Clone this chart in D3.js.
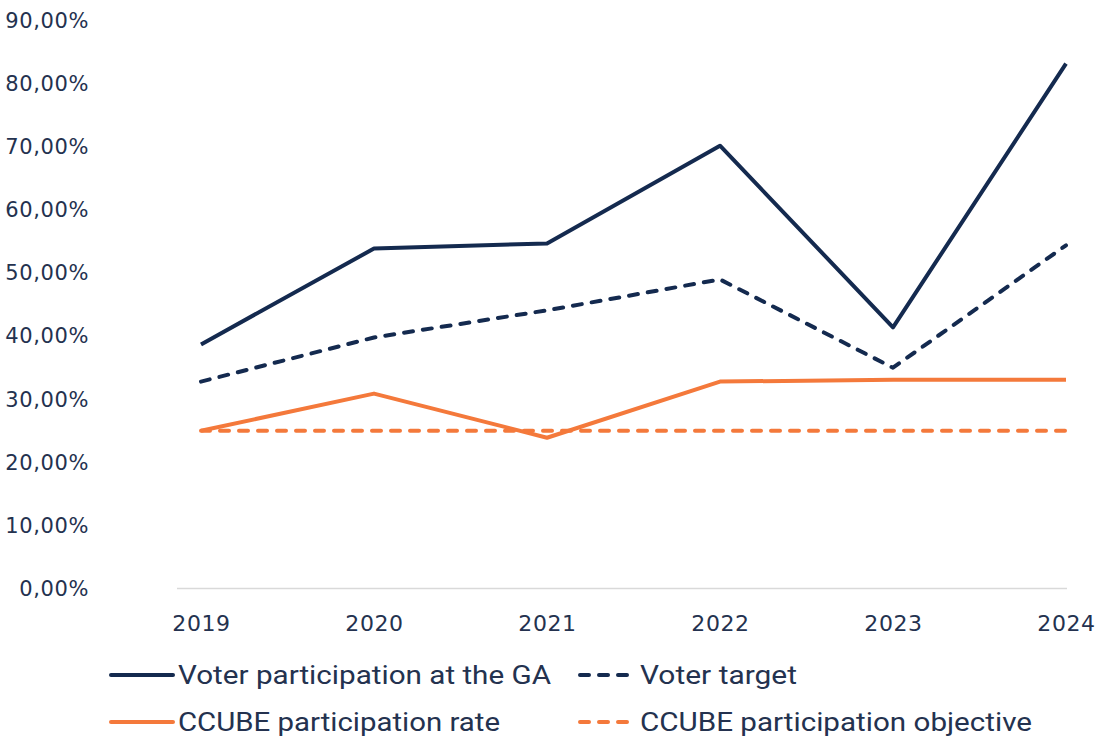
<!DOCTYPE html>
<html>
<head>
<meta charset="utf-8">
<script src="https://cdn.jsdelivr.net/npm/d3@7"></script>
<style>
  html, body { margin: 0; padding: 0; background: #ffffff; }
  svg { display: block; }
</style>
</head>
<body>
<svg id="chart" width="1100" height="740"></svg>
<script>
// Years on the category axis
const years = ["2019", "2020", "2021", "2022", "2023", "2024"];

// Participation series, in percent
const voterParticipation = [38.7, 53.9, 54.7, 70.2, 41.4, 83.2];
const voterTarget        = [32.8, 39.8, 44.1, 49.0, 35.0, 54.4];
const ccubeRate          = [25.0, 30.9, 23.9, 32.8, 33.1, 33.1];
const ccubeObjective     = [25.0, 25.0, 25.0, 25.0, 25.0, 25.0];

// Value-axis ticks
const yTicks = [0, 10, 20, 30, 40, 50, 60, 70, 80, 90];

const NAVY = "#142a4f";
const ORANGE = "#f4793b";
const TEXT = "#24324f";
const AXIS_FONT = "'DejaVu Sans', Verdana, sans-serif";

const series = [
  { name: "Voter participation at the GA", values: voterParticipation, color: NAVY, dashed: false },
  { name: "Voter target", values: voterTarget, color: NAVY, dashed: true },
  { name: "CCUBE participation rate", values: ccubeRate, color: ORANGE, dashed: false },
  { name: "CCUBE participation objective", values: ccubeObjective, color: ORANGE, dashed: true }
];

const svg = d3.select("#chart");

const x = d3.scalePoint().domain(years).range([201, 1066]);
const y = d3.scaleLinear().domain([0, 90]).range([588.5, 20.8]);

// Value axis labels (no axis line, no ticks)
const yAxis = d3.axisLeft(y)
  .tickValues(yTicks)
  .tickSize(0)
  .tickPadding(0)
  .tickFormat(d => d3.format(".2f")(d).replace(".", ",") + "%");

const gy = svg.append("g").attr("transform", "translate(89,0)").call(yAxis);
gy.select(".domain").remove();
gy.selectAll("text")
  .attr("fill", TEXT)
  .style("font-family", AXIS_FONT)
  .style("font-size", "21px")
  .style("letter-spacing", "0.6px");

// Category axis baseline
svg.append("line")
  .attr("x1", x(years[0]) - 24)
  .attr("x2", x(years[years.length - 1]) + 1)
  .attr("y1", y(0))
  .attr("y2", y(0))
  .attr("stroke", "#d9d9d9")
  .attr("stroke-width", 1.5);

// Category labels
const xAxis = d3.axisBottom(x).tickSize(0).tickPadding(0);
const gx = svg.append("g").attr("transform", "translate(0,623)").call(xAxis);
gx.select(".domain").remove();
gx.selectAll("text")
  .attr("dy", "0.35em")
  .attr("fill", TEXT)
  .style("font-family", AXIS_FONT)
  .style("font-size", "22px")
  .style("letter-spacing", "0.6px");

// Series lines
const line = d3.line()
  .x((d, i) => x(years[i]))
  .y(d => y(d));

svg.append("g").selectAll("path")
  .data(series)
  .join("path")
  .attr("d", d => line(d.values))
  .attr("fill", "none")
  .attr("stroke", d => d.color)
  .attr("stroke-width", 4)
  .attr("stroke-linejoin", "round")
  .attr("stroke-linecap", d => d.dashed ? "round" : "butt")
  .attr("stroke-dasharray", d => d.dashed ? "9,10" : null);

// Legend: two rows, two columns
const legendPos = [
  { sx: 111, tx: 178, ty: 675, w: 373 },
  { sx: 578, tx: 640, ty: 675, w: 157 },
  { sx: 111, tx: 178, ty: 722, w: 322 },
  { sx: 578, tx: 640, ty: 722, w: 392 }
];

const legend = svg.append("g").selectAll("g")
  .data(series)
  .join("g");

legend.append("line")
  .attr("x1", (d, i) => legendPos[i].sx + (series[i].dashed ? 2 : 0))
  .attr("x2", (d, i) => legendPos[i].sx + (series[i].dashed ? 54 : 62))
  .attr("y1", (d, i) => legendPos[i].ty)
  .attr("y2", (d, i) => legendPos[i].ty)
  .attr("stroke", d => d.color)
  .attr("stroke-width", 4)
  .attr("stroke-linecap", "round")
  .attr("stroke-dasharray", d => d.dashed ? "9,10" : null);

legend.append("text")
  .attr("x", (d, i) => legendPos[i].tx)
  .attr("y", (d, i) => legendPos[i].ty)
  .attr("dy", "0.35em")
  .attr("fill", TEXT)
  .attr("textLength", (d, i) => legendPos[i].w)
  .attr("lengthAdjust", "spacingAndGlyphs")
  .style("font-family", "Roboto, 'Liberation Sans', sans-serif")
  .style("font-size", "25px")
  .text(d => d.name);
</script>
</body>
</html>
